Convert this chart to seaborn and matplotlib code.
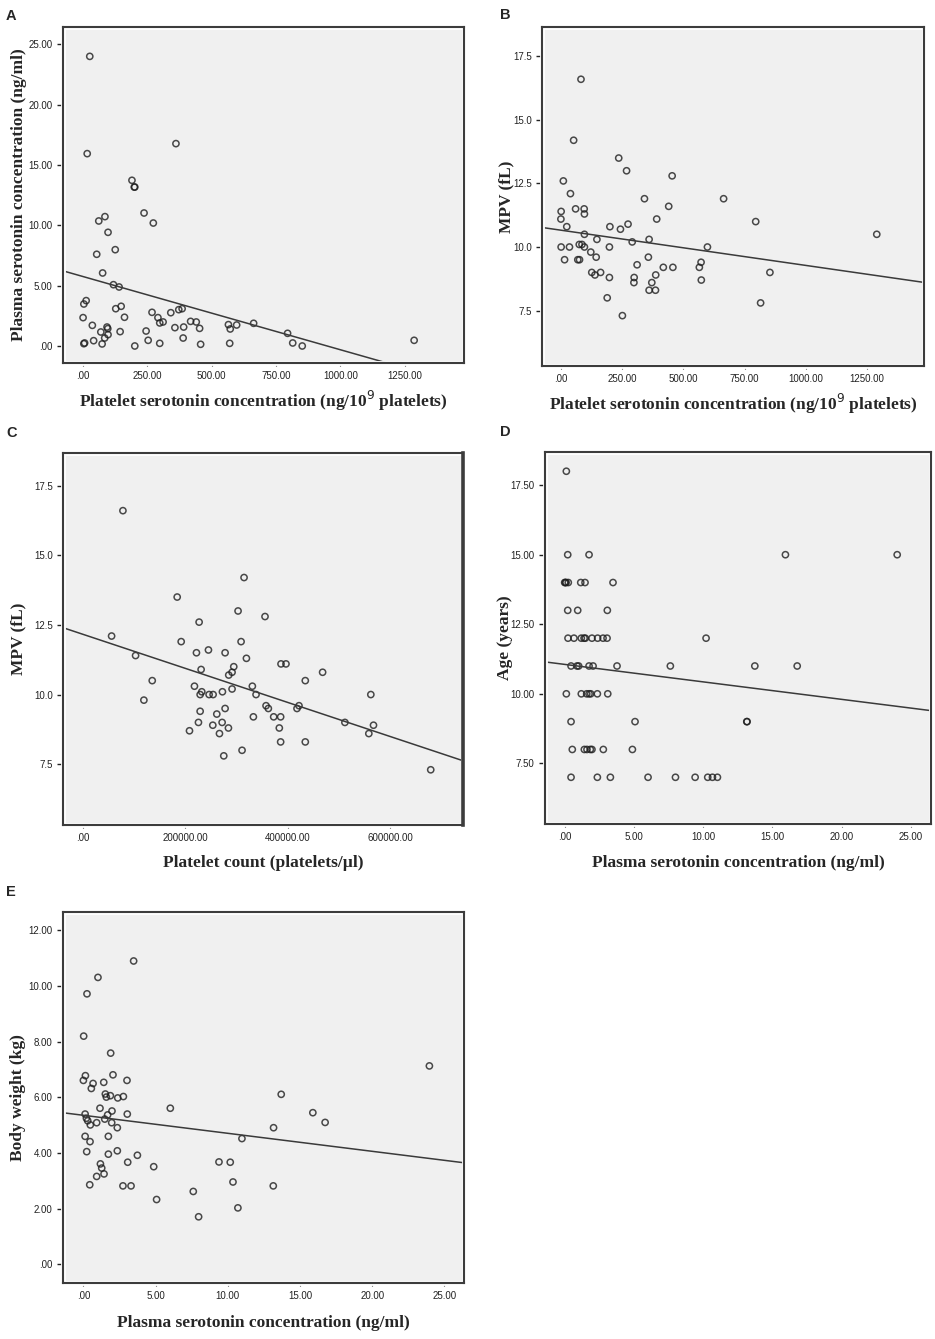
import numpy as np
import pandas as pd
import matplotlib
matplotlib.use('Agg')
import matplotlib.pyplot as plt
from matplotlib.ticker import FuncFormatter
from matplotlib.patches import Rectangle
import seaborn as sns

# A: platelet serotonin vs plasma serotonin
a_x = [26, 16, 361, 190, 199, 201, 237, 273, 85, 61, 97, 125, 53, 76, 118, 140, 12, 3, 0, 36,
       41, 3, 6, 69, 74, 84, 93, 96, 97, 127, 148, 161, 144, 201, 245, 253, 268, 291, 298, 311,
       298, 341, 357, 372, 385, 389, 391, 418, 440, 453, 457, 565, 572, 570, 597, 663, 795, 815,
       852, 1287]
a_y = [24.0, 15.94, 16.77, 13.73, 13.17, 13.17, 11.02, 10.19, 10.72, 10.36, 9.42, 7.98, 7.60, 6.05,
       5.08, 4.89, 3.76, 3.48, 2.35, 1.71, 0.44, 0.19, 0.25, 1.16, 0.17, 0.66, 1.57, 1.44, 0.94,
       3.09, 3.29, 2.38, 1.19, 0.00, 1.24, 0.47, 2.79, 2.35, 1.91, 1.99, 0.22, 2.76, 1.52, 3.01,
       3.09, 0.66, 1.57, 2.04, 1.99, 1.46, 0.14, 1.77, 1.41, 0.22, 1.74, 1.88, 1.05, 0.25, 0.00,
       0.47]

# B: platelet serotonin vs MPV
b_x = [82, 52, 236, 268, 454, 10, 39, 341, 664, 440, 1, 60, 95, 96, 0, 391, 795, 24, 200, 243,
       274, 96, 1289, 147, 360, 291, 75, 86, 1, 35, 96, 198, 598, 122, 15, 69, 76, 144, 357, 572,
       311, 418, 457, 565, 126, 162, 853, 139, 387, 198, 299, 298, 371, 573, 360, 386, 189, 815,
       251]
b_y = [16.6, 14.2, 13.5, 13.0, 12.8, 12.6, 12.1, 11.9, 11.9, 11.6, 11.4, 11.5, 11.5, 11.3, 11.1,
       11.1, 11.0, 10.8, 10.8, 10.7, 10.9, 10.5, 10.5, 10.3, 10.3, 10.2, 10.1, 10.1, 10.0, 10.0,
       10.0, 10.0, 10.0, 9.8, 9.5, 9.5, 9.5, 9.6, 9.6, 9.4, 9.3, 9.2, 9.2, 9.2, 9.0, 9.0, 9.0,
       8.9, 8.9, 8.8, 8.8, 8.6, 8.6, 8.7, 8.3, 8.3, 8.0, 7.8, 7.3]

# C: platelet count vs MPV
c_x = [77900, 314300, 183800, 302600, 355200, 226600, 55800, 191600, 308500, 244800, 221400,
       277300, 102600, 318900, 386400, 396100, 294200, 230500, 290900, 467600, 284400, 135100,
       433800, 217500, 330500, 290900, 231800, 272100, 228600, 246100, 253900, 337700, 561700,
       118800, 357200, 421500, 277300, 361700, 417600, 228600, 261100, 332500, 372100, 385700,
       225300, 271500, 511100, 253300, 566900, 283800, 383100, 207800, 266300, 557800, 385700,
       433800, 310400, 274700, 678600]
c_y = [16.6, 14.2, 13.5, 13.0, 12.8, 12.6, 12.1, 11.9, 11.9, 11.6, 11.5, 11.5, 11.4, 11.3, 11.1,
       11.1, 11.0, 10.9, 10.8, 10.8, 10.7, 10.5, 10.5, 10.3, 10.3, 10.2, 10.1, 10.1, 10.0, 10.0,
       10.0, 10.0, 10.0, 9.8, 9.6, 9.6, 9.5, 9.5, 9.5, 9.4, 9.3, 9.2, 9.2, 9.2, 9.0, 9.0, 9.0,
       8.9, 8.9, 8.8, 8.8, 8.7, 8.6, 8.6, 8.3, 8.3, 8.0, 7.8, 7.3]

# D: plasma serotonin vs age
d_x = [0.12, 0.22, 1.76, 15.94, 24.01, 0.0, 0.05, 0.1, 0.26, 1.16, 1.47, 3.49, 0.22, 0.94, 3.08,
       0.24, 0.67, 1.20, 1.40, 1.49, 1.97, 2.38, 2.77, 3.06, 10.21, 0.46, 0.89, 1.01, 1.76, 2.05,
       3.78, 7.63, 13.73, 16.79, 0.12, 1.20, 1.59, 1.76, 1.88, 2.36, 3.11, 0.46, 5.08, 13.15,
       13.17, 0.55, 1.42, 1.61, 1.85, 1.97, 2.79, 4.89, 0.46, 2.36, 3.30, 6.02, 8.00, 9.42,
       10.33, 10.67, 11.03]
d_y = [18, 15, 15, 15, 15, 14, 14, 14, 14, 14, 14, 14, 13, 13, 13, 12, 12, 12, 12, 12, 12, 12,
       12, 12, 12, 11, 11, 11, 11, 11, 11, 11, 11, 11, 10, 10, 10, 10, 10, 10, 10, 9, 9, 9, 9, 8,
       8, 8, 8, 8, 8, 8, 7, 7, 7, 7, 7, 7, 7, 7, 7]

# E: plasma serotonin vs body weight
e_x = [3.48, 1.01, 0.25, 0.02, 1.89, 23.96, 0.14, 2.05, 0.0, 3.02, 0.67, 1.41, 0.55, 13.70,
       1.52, 1.87, 1.59, 2.38, 2.77, 1.15, 6.02, 1.98, 15.89, 0.12, 3.04, 1.68, 0.21, 1.48, 0.30,
       0.92, 1.96, 16.74, 0.48, 2.35, 13.17, 0.12, 1.73, 10.98, 0.46, 0.23, 2.35, 1.73, 3.74,
       3.07, 9.39, 10.17, 1.18, 1.27, 4.87, 1.43, 0.92, 10.36, 0.44, 2.74, 3.30, 13.15, 7.61,
       5.07, 10.70, 7.98]
e_y = [10.90, 10.31, 9.72, 8.20, 7.59, 7.13, 6.78, 6.81, 6.61, 6.61, 6.50, 6.54, 6.32, 6.11,
       6.12, 6.06, 6.01, 5.98, 6.03, 5.61, 5.61, 5.51, 5.45, 5.40, 5.40, 5.37, 5.25, 5.22, 5.16,
       5.09, 5.09, 5.10, 5.01, 4.91, 4.91, 4.60, 4.60, 4.52, 4.41, 4.05, 4.08, 3.96, 3.92, 3.67,
       3.68, 3.67, 3.61, 3.46, 3.51, 3.25, 3.16, 2.96, 2.86, 2.82, 2.82, 2.82, 2.62, 2.33, 2.03,
       1.71]

lbl_plt = 'Platelet serotonin concentration (ng/10$^{9}$ platelets)'
lbl_pls = 'Plasma serotonin concentration (ng/ml)'

# letter, x, y, axes rect, xlim, ylim, xticks, yticks, x decimals, y decimals,
# xlabel, ylabel, ylabel x (axes), xlabel y (axes), letter pos (px)
panels = [
    ('A', a_x, a_y, [0.0674, 0.7289, 0.4289, 0.2509], (-78, 1481), (-1.41, 26.43),
     [0, 250, 500, 750, 1000, 1250], [0, 5, 10, 15, 20, 25], 2, 2,
     lbl_plt, 'Plasma serotonin concentration (ng/ml)', -0.11, -0.112, (6, 16)),
    ('B', b_x, b_y, [0.5797, 0.7267, 0.4086, 0.2532], (-77, 1482), (5.32, 18.66),
     [0, 250, 500, 750, 1000, 1250], [7.5, 10, 12.5, 15, 17.5], 2, 1,
     lbl_plt, 'MPV (fL)', -0.092, -0.111, (500, 15)),
    ('C', c_x, c_y, [0.0674, 0.3839, 0.4278, 0.2778], (-39000, 741600), (5.32, 18.67),
     [0, 200000, 400000, 600000], [7.5, 10, 12.5, 15, 17.5], 2, 1,
     'Platelet count (platelets/\u00b5l)', 'MPV (fL)', -0.1125, -0.102, (6, 433)),
    ('D', d_x, d_y, [0.5829, 0.3846, 0.4128, 0.2778], (-1.42, 26.45), (5.32, 18.69),
     [0, 5, 10, 15, 20, 25], [7.5, 10, 12.5, 15, 17.5], 2, 2,
     lbl_pls, 'Age (years)', -0.104, -0.105, (500, 432)),
    ('E', e_x, e_y, [0.0674, 0.0418, 0.4289, 0.2771], (-1.41, 26.36), (-0.67, 12.66),
     [0, 5, 10, 15, 20, 25], [0, 2, 4, 6, 8, 10, 12], 2, 2,
     lbl_pls, 'Body weight (kg)', -0.112, -0.108, (6, 892)),
]


def spss_fmt(dec):
    def f(v, pos):
        s = f'{v:.{dec}f}'
        if s.startswith('0.'):
            s = s[1:]
        return s
    return FuncFormatter(f)


sns.set_style('white')
W, H = 935, 1339
fig = plt.figure(figsize=(W / 100, H / 100), dpi=100)

for (letter, xs, ys, rect, xl, yl, xt, yt, xd, yd, xlab, ylab,
     ylx, xly, lpos) in panels:
    ax = fig.add_axes(rect)
    ax.set_facecolor('#f0f0f0')
    df = pd.DataFrame({'x': xs, 'y': ys})
    ax.set_xlim(xl)
    ax.set_ylim(yl)
    sns.regplot(data=df, x='x', y='y', ax=ax, ci=None, truncate=False,
                scatter_kws=dict(s=20, facecolors='none', edgecolors='#1e1e1e',
                                 linewidths=1.1),
                line_kws=dict(color='#3a3a3a', lw=1.1))
    ax.set_xlim(xl)
    ax.set_ylim(yl)
    ax.set_xticks(xt)
    ax.set_yticks(yt)
    ax.xaxis.set_major_formatter(spss_fmt(xd))
    ax.yaxis.set_major_formatter(spss_fmt(yd))
    ax.tick_params(axis='both', labelsize=7, colors='#222222', direction='out')
    ax.tick_params(axis='y', length=4, width=1, left=True)
    ax.tick_params(axis='x', length=2, width=0.8, bottom=True)
    for t in ax.get_xticklabels() + ax.get_yticklabels():
        t.set_family('Liberation Sans')
    for sp in ax.spines.values():
        sp.set_color('#3c3c3c')
        sp.set_linewidth(1.5)
        sp.set_zorder(5)
    if letter == 'C':
        ax.spines['right'].set_linewidth(2.6)
    ax.add_patch(Rectangle((0, 0), 1, 1, transform=ax.transAxes, fill=False,
                           edgecolor='white', lw=3.5, zorder=4, clip_on=False))
    ax.set_xlabel(xlab, fontsize=12.5, fontweight='bold', family='Liberation Serif')
    ax.set_ylabel(ylab, fontsize=12.5, fontweight='bold', family='Liberation Serif')
    ax.xaxis.label.set_va('center')
    ax.yaxis.label.set_va('center')
    ax.xaxis.set_label_coords(0.5, xly)
    ax.yaxis.set_label_coords(ylx, 0.5)
    fig.text(lpos[0] / W, 1 - lpos[1] / H, letter, fontsize=10.5, fontweight='bold',
             family='Liberation Sans', ha='left', va='center')

fig.savefig('out.png', dpi=100)
